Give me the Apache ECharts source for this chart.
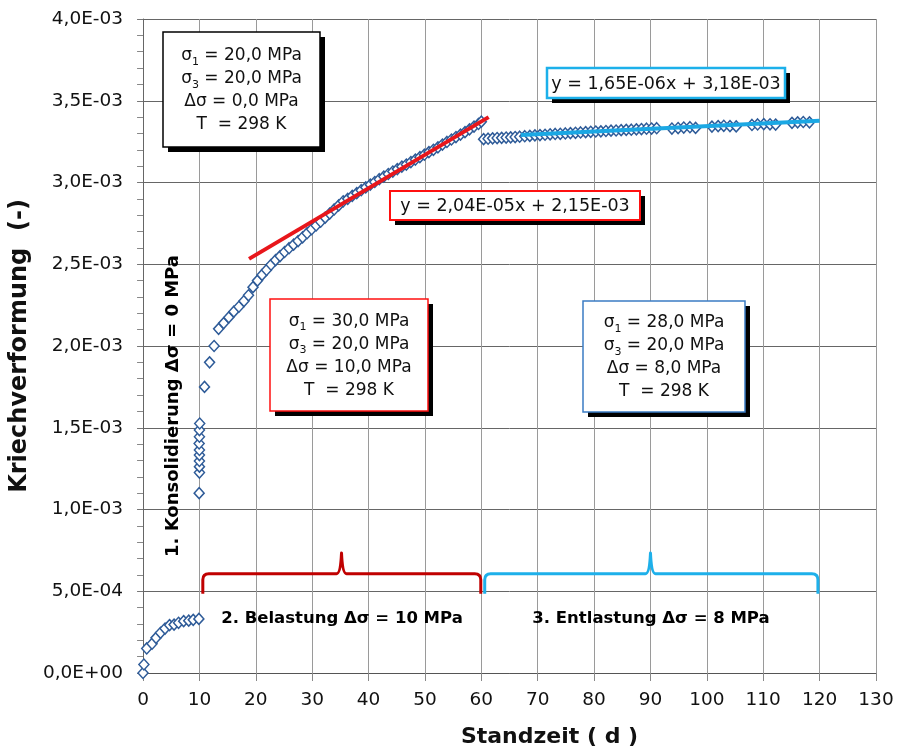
<!DOCTYPE html>
<html>
<head>
<meta charset="utf-8">
<script src="https://cdn.jsdelivr.net/npm/echarts@6/dist/echarts.min.js"></script>
<style>
html,body{margin:0;padding:0;background:#fff;}
#chart{width:898px;height:753px;}
</style>
</head>
<body>
<div id="chart"></div>
<script>
// ---------------- DATA ----------------
// Phase 1: Konsolidierung (days, strain)
const phase1X = [0, 0.15, 0.65, 1.6, 2.3, 3.1, 3.9, 4.7, 5.5, 6.3, 7.2, 8.1, 8.9, 9.9,
                 9.95, 10.0, 10.0, 10.0, 10.0, 10.0, 9.95, 10.0, 10.0, 10.05];
const phase1Y = [0, 0.52e-4, 1.5e-4, 1.79e-4, 2.15e-4, 2.46e-4, 2.72e-4, 2.93e-4, 2.96e-4, 3.07e-4, 3.17e-4, 3.2e-4, 3.25e-4, 3.31e-4,
                 1.10e-3, 1.226e-3, 1.262e-3, 1.297e-3, 1.333e-3, 1.364e-3, 1.404e-3, 1.445e-3, 1.486e-3, 1.526e-3];
// Phase 2: Belastung
const phase2X = [10.9, 11.8, 12.6, 13.4, 14.3, 15.2, 16.1, 17.0, 17.9, 18.7, 19.5, 20.3, 21.1, 21.9, 22.7, 23.5, 24.3, 25.1, 25.9, 26.7,
                 27.5, 28.3, 29.1, 29.9, 30.7, 31.5, 32.3, 33.1, 33.9, 34.7, 35.5, 36.3, 37.1, 37.9, 38.7, 39.5, 40.3, 41.1, 41.9, 42.7,
                 43.5, 44.3, 45.1, 45.9, 46.7, 47.5, 48.3, 49.1, 49.9, 50.7, 51.5, 52.3, 53.1, 53.9, 54.7, 55.5, 56.3, 57.1, 57.9, 58.7,
                 59.5, 60.0];
const phase2Y = [1.75e-3, 1.90e-3, 2.00e-3, 2.105e-3, 2.14e-3, 2.175e-3, 2.21e-3, 2.24e-3, 2.275e-3, 2.31e-3, 2.36e-3, 2.40e-3, 2.435e-3, 2.465e-3, 2.497e-3, 2.525e-3, 2.55e-3, 2.575e-3, 2.598e-3, 2.62e-3,
                 2.642e-3, 2.665e-3, 2.69e-3, 2.714e-3, 2.737e-3, 2.76e-3, 2.785e-3, 2.81e-3, 2.835e-3, 2.86e-3, 2.885e-3, 2.90e-3, 2.918e-3, 2.935e-3, 2.953e-3, 2.97e-3, 2.987e-3, 3.003e-3, 3.02e-3, 3.036e-3,
                 3.052e-3, 3.067e-3, 3.082e-3, 3.097e-3, 3.11e-3, 3.125e-3, 3.14e-3, 3.155e-3, 3.17e-3, 3.186e-3, 3.20e-3, 3.215e-3, 3.232e-3, 3.248e-3, 3.263e-3, 3.278e-3, 3.293e-3, 3.308e-3, 3.325e-3, 3.342e-3,
                 3.358e-3, 3.372e-3];
// Phase 3: Entlastung
const phase3X = [60.4, 61.2, 62.0, 62.8, 63.6, 64.4, 65.2, 66.0, 66.8, 67.7, 68.6, 69.5, 70.4, 71.3, 72.2, 73.1, 74.0, 74.9, 75.8, 76.7,
                 77.6, 78.5, 79.4, 80.3, 81.2, 82.1, 83.0, 83.9, 84.8, 85.7, 86.6, 87.5, 88.4, 89.3, 90.2, 91.1,
                 93.8, 94.9, 95.9, 97.0, 98.0, 100.9, 102.0, 103.0, 104.1, 105.2, 108.0, 109.0, 110.1, 111.2, 112.2, 115.1, 116.1, 117.1, 118.2];
const phase3Y = [3.265e-3, 3.268e-3, 3.27e-3, 3.272e-3, 3.273e-3, 3.275e-3, 3.276e-3, 3.278e-3, 3.28e-3, 3.283e-3, 3.285e-3, 3.288e-3, 3.29e-3, 3.292e-3, 3.295e-3, 3.297e-3, 3.298e-3, 3.30e-3, 3.302e-3, 3.304e-3,
                 3.306e-3, 3.308e-3, 3.31e-3, 3.312e-3, 3.313e-3, 3.315e-3, 3.317e-3, 3.318e-3, 3.32e-3, 3.322e-3, 3.323e-3, 3.325e-3, 3.327e-3, 3.329e-3, 3.33e-3, 3.332e-3,
                 3.33e-3, 3.333e-3, 3.336e-3, 3.338e-3, 3.334e-3, 3.342e-3, 3.345e-3, 3.347e-3, 3.345e-3, 3.343e-3, 3.352e-3, 3.355e-3, 3.357e-3, 3.356e-3, 3.354e-3, 3.365e-3, 3.368e-3, 3.37e-3, 3.368e-3];
// Trend lines (endpoints)
const trendRedX = [18.8, 61.3];
const trendRedY = [2.533e-3, 3.40e-3];
const trendBlueX = [67, 120];
const trendBlueY = [3.29e-3, 3.378e-3];
// Braces: [start day, end day, peak day, base strain, top strain, peak strain]
const braceRed = [10.6, 59.9, 35.2, 4.85e-4, 6.07e-4, 7.34e-4];
const braceBlue = [60.6, 119.7, 90.0, 4.85e-4, 6.07e-4, 7.34e-4];
// Axis
const xTicks = {min: 0, max: 130, interval: 10};
const yTicks = {min: 0, max: 0.004, interval: 0.0005};
// Texts
const eqRed = 'y = 2,04E-05x + 2,15E-03';
const eqBlue = 'y = 1,65E-06x + 3,18E-03';
const box1 = ['20,0', '20,0', '0,0', '298'];
const box2 = ['30,0', '20,0', '10,0', '298'];
const box3 = ['28,0', '20,0', '8,0', '298'];
const phaseLabels = ['1. Konsolidierung Δσ = 0 MPa', '2. Belastung Δσ = 10 MPa', '3. Entlastung Δσ = 8 MPa'];

// ---------------- CHART ----------------
const FONT = 'DejaVu Sans';
const zip = (xs, ys) => xs.map((x, i) => [x, ys[i]]);

function fmtSci(v) {
  if (v === 0) return '0,0E+00';
  const s = v.toExponential(1);
  const parts = s.split('e');
  const e = parseInt(parts[1], 10);
  const sign = e < 0 ? '-' : '+';
  const n = Math.abs(e);
  return parts[0].replace('.', ',') + 'E' + sign + (n < 10 ? '0' : '') + n;
}

const diamondStyle = {
  type: 'scatter',
  symbol: 'diamond',
  symbolSize: [10, 11],
  itemStyle: {color: '#ffffff', borderColor: '#2E5B98', borderWidth: 1.5, opacity: 1},
  emphasis: {disabled: true},
  z: 3
};

function braceItem(params, api) {
  const pL = api.coord([api.value(0), api.value(3)]);
  const pT = api.coord([api.value(0), api.value(4)]);
  const pR = api.coord([api.value(1), api.value(3)]);
  const pM = api.coord([api.value(2), api.value(5)]);
  const X0 = pL[0], X1 = pR[0], XM = pM[0], YB = pL[1], YT = pT[1], YP = pM[1];
  const r = 6;
  const d = 'M' + X0 + ',' + YB + ' L' + X0 + ',' + (YT + r) +
    ' Q' + X0 + ',' + YT + ' ' + (X0 + r) + ',' + YT +
    ' L' + (XM - 5) + ',' + YT +
    ' Q' + (XM - 1) + ',' + YT + ' ' + XM + ',' + YP +
    ' Q' + (XM + 1) + ',' + YT + ' ' + (XM + 5) + ',' + YT +
    ' L' + (X1 - r) + ',' + YT +
    ' Q' + X1 + ',' + YT + ' ' + X1 + ',' + (YT + r) +
    ' L' + X1 + ',' + YB;
  return {
    type: 'path',
    shape: {pathData: d},
    style: {fill: 'none', stroke: api.visual('color'), lineWidth: 3, lineJoin: 'round'}
  };
}

function infoBox(x, y, w, h, border, bw, vals) {
  const txt = '{s|σ}{sub|1}{s| = ' + vals[0] + ' MPa}\n' +
              '{s|σ}{sub|3}{s| = ' + vals[1] + ' MPa}\n' +
              '{s|Δσ = ' + vals[2] + ' MPa}\n' +
              '{s|T  = ' + vals[3] + ' K}';
  return [
    {type: 'rect', shape: {x: x + 5, y: y + 5, width: w, height: h}, style: {fill: '#000'}, z: 100},
    {type: 'rect', shape: {x: x, y: y, width: w, height: h}, style: {fill: '#fff', stroke: border, lineWidth: bw}, z: 101},
    {type: 'text', x: x + w / 2, y: y + h / 2 + 1, z: 102,
     style: {
       text: txt, align: 'center', verticalAlign: 'middle',
       rich: {
         s: {fontFamily: FONT, fontSize: 17, lineHeight: 23, fill: '#111'},
         sub: {fontFamily: FONT, fontSize: 11, lineHeight: 15, verticalAlign: 'bottom', fill: '#111'}
       }
     }}
  ];
}

function eqBox(x, y, w, h, border, bw, text) {
  return [
    {type: 'rect', shape: {x: x + 5, y: y + 5, width: w, height: h}, style: {fill: '#000'}, z: 100},
    {type: 'rect', shape: {x: x, y: y, width: w, height: h}, style: {fill: '#fff', stroke: border, lineWidth: bw}, z: 101},
    {type: 'text', x: x + w / 2, y: y + h / 2 + 1, z: 102,
     style: {text: text, align: 'center', verticalAlign: 'middle', fontFamily: FONT, fontSize: 17.5, fill: '#111'}}
  ];
}

const graphics = [].concat(
  infoBox(163, 32, 157, 115, '#000', 1.5, box1),
  infoBox(270, 299, 158, 112, '#ff1010', 1.5, box2),
  infoBox(583, 301, 162, 111, '#3b7cc4', 1.5, box3),
  eqBox(390, 191, 250, 29, '#ff1010', 2, eqRed),
  eqBox(547, 68, 238, 30, '#1cb0ea', 2.5, eqBlue),
  [
    {type: 'text', x: 173, y: 406, rotation: Math.PI / 2, z: 102,
     style: {text: phaseLabels[0], align: 'center', verticalAlign: 'middle', fontFamily: FONT, fontWeight: 'bold', fontSize: 18, fill: '#000'}},
    {type: 'text', x: 342, y: 619, z: 102,
     style: {text: phaseLabels[1], align: 'center', verticalAlign: 'middle', fontFamily: FONT, fontWeight: 'bold', fontSize: 16.5, fill: '#000'}},
    {type: 'text', x: 651, y: 619, z: 102,
     style: {text: phaseLabels[2], align: 'center', verticalAlign: 'middle', fontFamily: FONT, fontWeight: 'bold', fontSize: 16.5, fill: '#000'}}
  ]
);

const chart = echarts.init(document.getElementById('chart'), null, {renderer: 'canvas'});
chart.setOption({
  animation: false,
  backgroundColor: '#fff',
  grid: {left: 142, right: 22, top: 19, bottom: 78, containLabel: false},
  xAxis: {
    type: 'value', min: xTicks.min, max: xTicks.max, interval: xTicks.interval,
    name: 'Standzeit ( d )', nameLocation: 'middle', nameGap: 53,
    nameTextStyle: {fontFamily: FONT, fontWeight: 'bold', fontSize: 22, color: '#111', padding: [0, 0, 0, 80]},
    axisLine: {show: true, onZero: false, lineStyle: {color: '#555', width: 1}},
    axisTick: {show: true, inside: false, length: 8, lineStyle: {color: '#888'}},
    splitLine: {show: true, lineStyle: {color: '#9a9a9a', width: 1}},
    axisLabel: {show: true, margin: 18, fontFamily: FONT, fontSize: 18.5, color: '#111', showMinLabel: true, showMaxLabel: true}
  },
  yAxis: {
    type: 'value', min: yTicks.min, max: yTicks.max, interval: yTicks.interval,
    name: 'Kriechverformung  (-)', nameLocation: 'middle', nameGap: 100, nameRotate: 90,
    nameTextStyle: {fontFamily: FONT, fontWeight: 'bold', fontSize: 24, color: '#111'},
    axisLine: {show: true, onZero: false, lineStyle: {color: '#666', width: 1}},
    axisTick: {show: true, inside: false, length: 6, lineStyle: {color: '#777'}},
    minorTick: {show: true, splitNumber: 5, length: 6, lineStyle: {color: '#888'}},
    splitLine: {show: true, lineStyle: {color: '#666', width: 1}},
    axisLabel: {show: true, margin: 20, fontFamily: FONT, fontSize: 18.5, color: '#111', formatter: fmtSci, showMinLabel: true, showMaxLabel: true}
  },
  series: [
    Object.assign({name: 'Phase 1', data: zip(phase1X, phase1Y)}, diamondStyle),
    Object.assign({name: 'Phase 2', data: zip(phase2X, phase2Y)}, diamondStyle),
    Object.assign({name: 'Phase 3', data: zip(phase3X, phase3Y)}, diamondStyle),
    {name: 'Trend 2', type: 'line', data: zip(trendRedX, trendRedY), symbol: 'none', z: 5,
     lineStyle: {color: '#e8161b', width: 4}, emphasis: {disabled: true}},
    {name: 'Trend 3', type: 'line', data: zip(trendBlueX, trendBlueY), symbol: 'none', z: 5,
     lineStyle: {color: '#1ba8e4', width: 4}, emphasis: {disabled: true}},
    {name: 'Brace 2', type: 'custom', renderItem: braceItem, data: [braceRed], z: 6,
     itemStyle: {color: '#c00000'}, encode: {x: [0, 1, 2], y: [3, 4, 5]}},
    {name: 'Brace 3', type: 'custom', renderItem: braceItem, data: [braceBlue], z: 6,
     itemStyle: {color: '#1eb0ea'}, encode: {x: [0, 1, 2], y: [3, 4, 5]}}
  ],
  graphic: graphics
});
</script>
</body>
</html>
